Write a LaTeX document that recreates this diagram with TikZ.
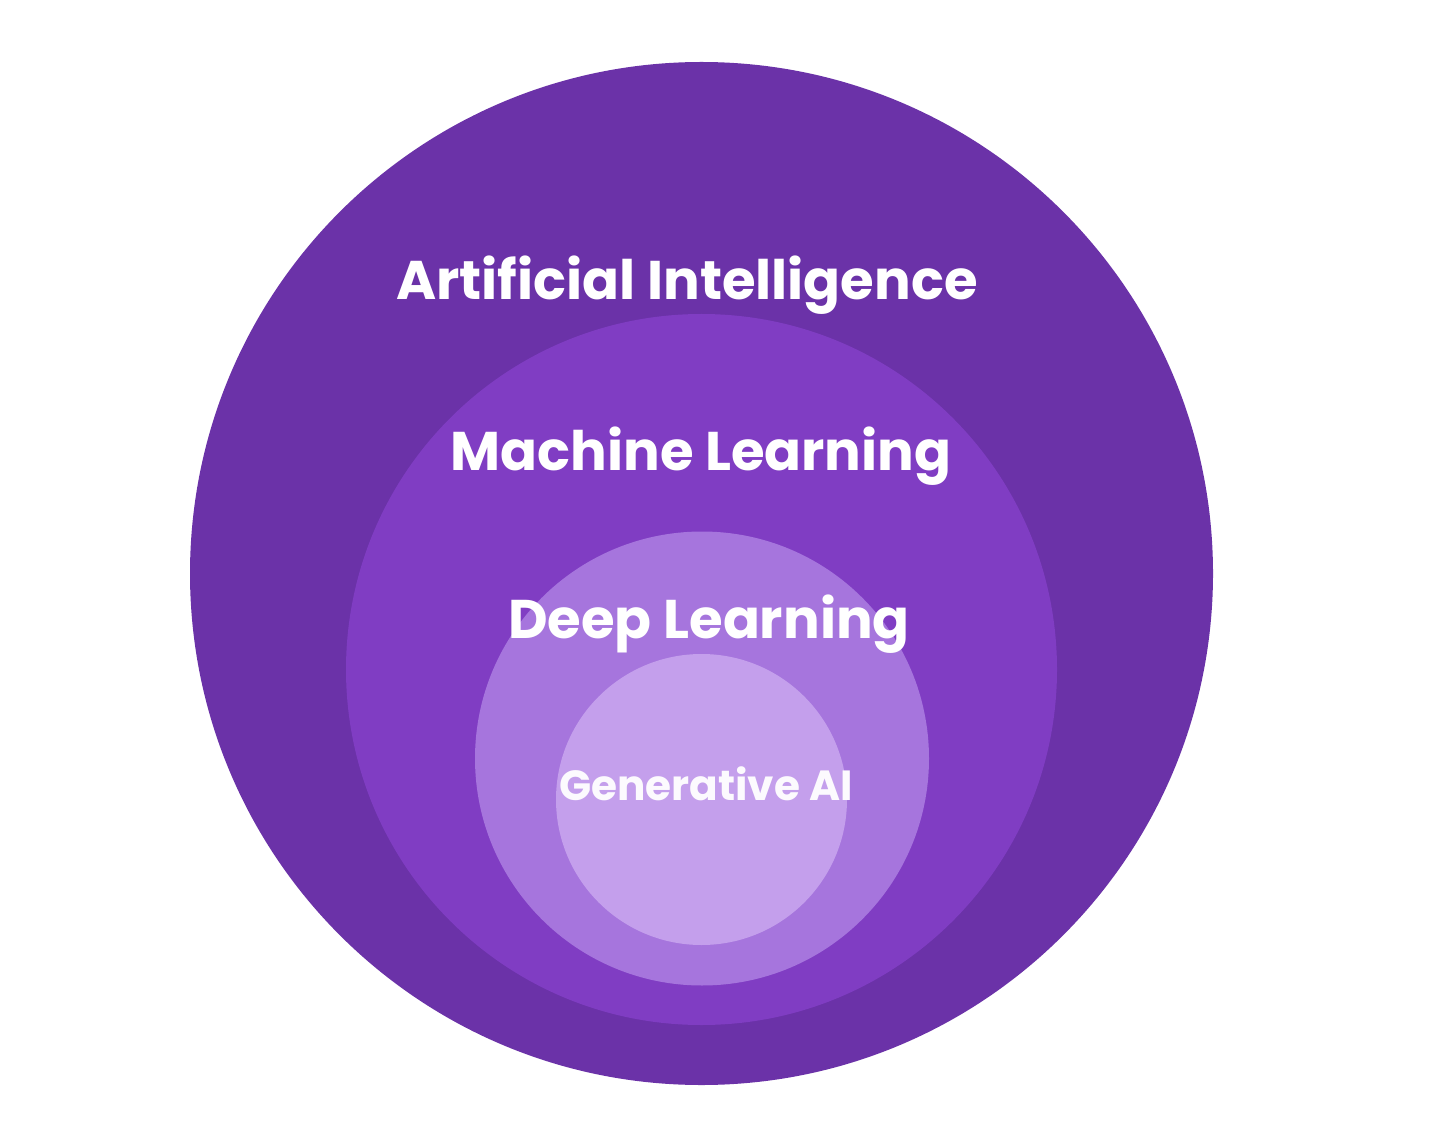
\documentclass[tikz,border=0pt]{standalone}
\usepackage{fontspec}
\setmainfont{Poppins}
\definecolor{cai}{RGB}{107,50,168}
\definecolor{cml}{RGB}{128,61,195}
\definecolor{cdl}{RGB}{166,117,221}
\definecolor{cgen}{RGB}{196,159,236}
\begin{document}
\begin{tikzpicture}[x=0.02cm,y=-0.02cm,
  lbl/.style={text=white,font=\bfseries\fontsize{31}{36}\selectfont,anchor=base},
  lblsmall/.style={text=white!95!cgen,font=\bfseries\fontsize{24}{28}\selectfont,anchor=base}]
\useasboundingbox[fill=white] (0,0) rectangle (1456,1148);
\fill[cai] (701.5,573.5) circle (511.5);
\fill[cml] (701.5,669.5) circle (355.5);
\fill[cdl] (702,758.5) circle (227);
\fill[cgen] (701.5,799.5) circle (145.5);
\node[lbl] (ai) at (687,300) {Artificial Intelligence};
\node[lbl] (ml) at (701,470) {Machine Learning};
\node[lbl] (dl) at (709,638) {Deep Learning};
\node[lblsmall] (gen) at (706,800) {Generative AI};
\end{tikzpicture}
\end{document}
